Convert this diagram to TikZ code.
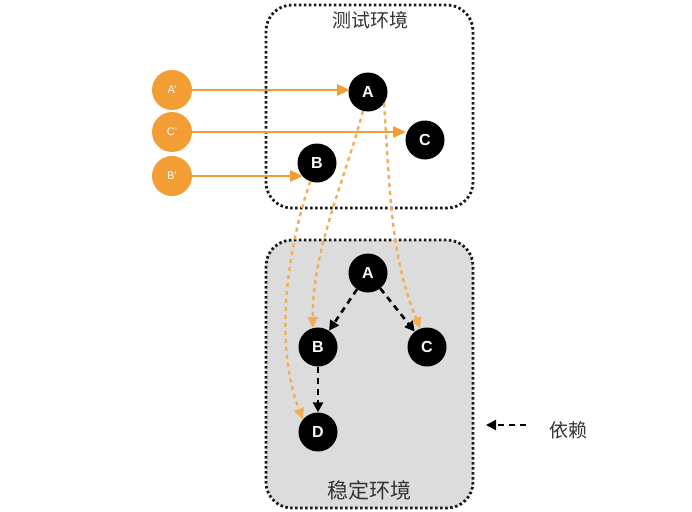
\documentclass[tikz,border=0pt]{standalone}
\usepackage{fontspec}
\setmainfont{Liberation Sans}
\newfontfamily\cjk{Noto Sans CJK SC}
\usetikzlibrary{arrows.meta}
\definecolor{org}{HTML}{F29E34}
\definecolor{envgray}{HTML}{DCDCDC}
\tikzset{
  envbox/.style={draw=black!90, line width=2.8pt, dash pattern=on 2.5pt off 2.5pt, rounded corners=26pt},
  orgnode/.style={circle, fill=org, minimum size=40pt, inner sep=0pt, text=white, font=\fontsize{11}{11}\selectfont},
  blknode/.style={circle, fill=black, minimum size=39pt, inner sep=0pt, text=white, font=\fontsize{16}{16}\selectfont\bfseries},
  orgarrow/.style={draw=org, line width=2.8pt, -{Triangle[length=13pt,width=11pt]}},
  orgdash/.style={draw=org!85, line width=2.4pt, dash pattern=on 4pt off 4pt, -{Triangle[length=11pt,width=10pt]}},
  blkdash/.style={draw=black, line width=2.6pt, dash pattern=on 6pt off 5pt, -{Triangle[length=10pt,width=10pt]}},
  lbl/.style={font=\cjk\fontsize{19}{19}\selectfont, text=black!80}
}
\begin{document}
\begin{tikzpicture}[x=1pt,y=-1pt]
\useasboundingbox (0,0) rectangle (692,511);
\fill[white] (0,0) rectangle (692,511);
% environment boxes
\draw[envbox] (266,5) rectangle (473,208);
\draw[envbox, fill=envgray] (266,240) rectangle (473,508);
\node[lbl] (tlabel) at (370,20) {测试环境};
\node[lbl, font=\cjk\fontsize{21}{21}\selectfont] (blabel) at (369,490) {稳定环境};
% orange nodes
\node[orgnode] (Ap) at (172,90) {A'};
\node[orgnode] (Cp) at (172,132) {C'};
\node[orgnode] (Bp) at (172,176) {B'};
% test env nodes
\node[blknode] (tA) at (368,92) {A};
\node[blknode] (tC) at (425,140) {C};
\node[blknode] (tB) at (317,163) {B};
% stable env nodes
\node[blknode] (sA) at (368,273) {A};
\node[blknode] (sB) at (318,347) {B};
\node[blknode] (sC) at (427,347) {C};
\node[blknode] (sD) at (318,432) {D};
% orange solid arrows (horizontal)
\coordinate (tAin) at (350,90);
\coordinate (tCin) at (406,132);
\coordinate (tBin) at (303,176);
\draw[orgarrow] (Ap.east) -- (tAin);
\draw[orgarrow] (Cp.east) -- (tCin);
\draw[orgarrow] (Bp.east) -- (tBin);
% orange dashed arrows
\draw[orgdash] (tA.-105) .. controls (345,180) and (312,250) .. (sB.105);
\draw[orgdash] (tA.-35) .. controls (390,200) and (392,260) .. (sC.110);
\draw[orgdash] (tB.-110) .. controls (290,240) and (272,340) .. (sD.140);
% black dashed arrows
\draw[blkdash] (sA) -- (sB);
\draw[blkdash] (sA) -- (sC);
\draw[blkdash] (sB) -- (sD);
% legend
\coordinate (legS) at (526,425);
\coordinate (legE) at (486,425);
\draw[blkdash, line width=2.2pt] (legS) -- (legE);
\node[lbl] (legT) at (568,430) {依赖};
\end{tikzpicture}
\end{document}
